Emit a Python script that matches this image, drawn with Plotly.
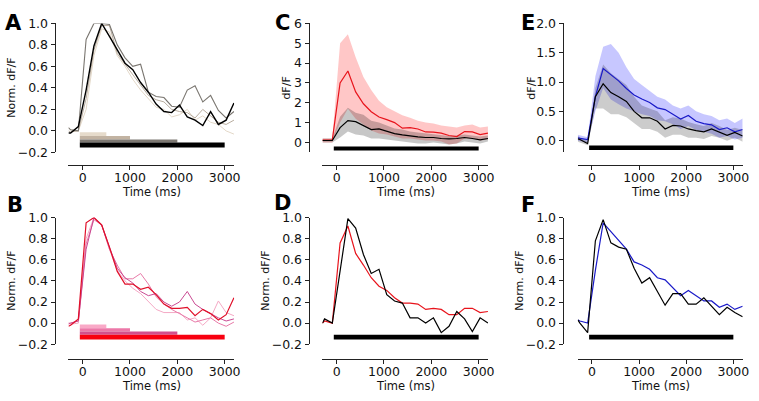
import plotly.graph_objects as go

W, H = 759, 401

# ---------------- data ----------------
T = [-300, -255, -91, 73, 238, 402, 566, 731, 895, 1059, 1224, 1388, 1552,
     1717, 1881, 2045, 2210, 2374, 2538, 2703, 2867, 3031, 3196]

# Panel A (normalized, grey shades by stimulus duration)
a_light = [0.03, 0.01, 0.0, 0.2, 0.7, 0.95, 0.92, 0.7, 0.6, 0.48, 0.38, 0.3, 0.22, 0.2, 0.13, 0.15, 0.2, 0.1, 0.14, 0.08, 0.06, 0.0, -0.03]
a_tan = [0.0, -0.01, 0.0, 0.3, 0.75, 0.98, 0.98, 0.72, 0.62, 0.52, 0.42, 0.33, 0.29, 0.27, 0.2, 0.18, 0.17, 0.12, 0.2, 0.14, 0.08, 0.06, 0.1]
a_gray = [0.03, 0.01, 0.0, 0.85, 1.0, 1.0, 0.99, 0.8, 0.68, 0.6, 0.62, 0.36, 0.32, 0.31, 0.23, 0.22, 0.38, 0.42, 0.27, 0.33, 0.19, 0.12, 0.18]
a_black = [-0.02, -0.02, 0.04, 0.38, 0.79, 1.0, 0.88, 0.75, 0.63, 0.57, 0.45, 0.36, 0.25, 0.18, 0.17, 0.24, 0.13, 0.1, 0.05, 0.18, 0.06, 0.1, 0.26]

# Panel B (normalized, pink/red shades)
b_light = [0.0, -0.01, 0.0, 0.8, 1.0, 0.93, 0.7, 0.5, 0.4, 0.33, 0.28, 0.2, 0.13, 0.1, 0.1, 0.1, 0.03, 0.05, -0.02, 0.05, 0.21, 0.1, 0.07]
b_pink = [0.0, 0.0, 0.02, 0.75, 0.98, 0.93, 0.7, 0.55, 0.42, 0.42, 0.47, 0.37, 0.25, 0.18, 0.13, 0.09, 0.05, 0.01, 0.03, 0.05, 0.0, -0.03, 0.01]
b_mag = [-0.01, 0.0, 0.02, 0.7, 1.0, 0.93, 0.72, 0.52, 0.43, 0.38, 0.3, 0.26, 0.28, 0.2, 0.16, 0.2, 0.3, 0.18, 0.13, 0.09, 0.05, 0.02, 0.04]
b_red = [-0.03, -0.02, 0.04, 0.95, 1.0, 0.93, 0.72, 0.49, 0.37, 0.37, 0.32, 0.34, 0.27, 0.18, 0.14, 0.14, 0.15, 0.07, 0.13, 0.09, 0.03, 0.08, 0.24]

# Panel C (dF/F, mean and spread)
c_red = [0.12, 0.12, 0.13, 3.0, 3.6, 2.55, 1.95, 1.55, 1.28, 1.15, 1.0, 0.72, 0.75, 0.68, 0.53, 0.52, 0.47, 0.35, 0.3, 0.55, 0.53, 0.4, 0.47]
c_red_hi = [0.2, 0.2, 0.2, 5.0, 5.45, 4.3, 3.3, 2.65, 2.1, 1.77, 1.55, 1.37, 1.25, 1.1, 1.0, 0.95, 0.85, 0.8, 0.75, 0.85, 0.9, 0.75, 0.8]
c_red_lo = [0.0, 0.0, 0.0, 1.0, 1.7, 1.2, 0.9, 0.6, 0.45, 0.4, 0.3, 0.2, 0.2, 0.15, 0.1, 0.1, 0.05, -0.1, -0.05, 0.2, 0.2, 0.1, 0.15]
c_blk = [0.1, 0.1, 0.1, 0.75, 1.1, 1.05, 0.85, 0.65, 0.68, 0.55, 0.45, 0.38, 0.32, 0.28, 0.25, 0.25, 0.2, 0.18, 0.2, 0.25, 0.2, 0.13, 0.2]
c_blk_hi = [0.2, 0.2, 0.2, 1.3, 1.75, 1.5, 1.4, 1.1, 1.0, 0.85, 0.7, 0.65, 0.55, 0.5, 0.45, 0.42, 0.35, 0.32, 0.35, 0.4, 0.35, 0.3, 0.35]
c_blk_lo = [0.0, 0.0, 0.0, 0.25, 0.55, 0.4, 0.35, 0.2, 0.2, 0.15, 0.1, 0.05, 0.0, -0.05, -0.05, 0.0, -0.05, -0.1, -0.05, 0.05, 0.0, -0.05, 0.05]

# Panel D (normalized means)
d_blk = [0.0, 0.04, 0.0, 0.5, 0.99, 0.9, 0.65, 0.47, 0.51, 0.27, 0.21, 0.19, 0.05, 0.05, 0.0, 0.05, -0.09, -0.03, 0.11, 0.04, -0.08, 0.05, 0.0]
d_red = [0.0, 0.02, 0.0, 0.76, 0.92, 0.66, 0.55, 0.43, 0.35, 0.31, 0.24, 0.19, 0.19, 0.18, 0.13, 0.14, 0.13, 0.08, 0.08, 0.14, 0.14, 0.1, 0.11]

# Panel E (dF/F, mean and spread)
e_blue = [0.05, 0.04, 0.02, 0.75, 1.23, 1.12, 1.02, 0.89, 0.78, 0.71, 0.65, 0.56, 0.53, 0.45, 0.37, 0.43, 0.33, 0.29, 0.27, 0.19, 0.22, 0.15, 0.19]
e_blue_hi = [0.1, 0.09, 0.06, 1.1, 1.6, 1.65, 1.5, 1.25, 1.05, 0.95, 0.85, 0.75, 0.7, 0.6, 0.55, 0.6, 0.5, 0.45, 0.42, 0.35, 0.38, 0.3, 0.38]
e_blue_lo = [0.0, -0.01, -0.03, 0.5, 0.9, 0.7, 0.62, 0.55, 0.5, 0.45, 0.42, 0.35, 0.33, 0.28, 0.2, 0.25, 0.18, 0.15, 0.12, 0.05, 0.08, 0.02, 0.05]
e_blk = [0.03, 0.02, -0.05, 0.75, 0.97, 0.82, 0.75, 0.67, 0.5, 0.39, 0.39, 0.33, 0.2, 0.26, 0.25, 0.2, 0.17, 0.15, 0.2, 0.15, 0.09, 0.14, 0.08]
e_blk_hi = [0.08, 0.06, 0.0, 0.9, 1.3, 1.15, 1.05, 0.95, 0.75, 0.6, 0.55, 0.5, 0.35, 0.4, 0.38, 0.32, 0.28, 0.25, 0.3, 0.25, 0.18, 0.22, 0.18]
e_blk_lo = [-0.02, -0.03, -0.08, 0.55, 0.55, 0.45, 0.45, 0.4, 0.3, 0.2, 0.2, 0.15, 0.05, 0.1, 0.1, 0.05, 0.05, 0.03, 0.08, 0.05, 0.0, 0.05, -0.02]

# Panel F (normalized means)
f_blk = [0.03, 0.0, -0.09, 0.78, 0.98, 0.76, 0.72, 0.7, 0.52, 0.38, 0.43, 0.3, 0.17, 0.28, 0.28, 0.18, 0.18, 0.24, 0.16, 0.08, 0.15, 0.1, 0.06]
f_blue = [0.03, 0.02, 0.0, 0.5, 0.95, 0.87, 0.78, 0.7, 0.58, 0.55, 0.51, 0.43, 0.41, 0.33, 0.26, 0.31, 0.26, 0.21, 0.21, 0.15, 0.18, 0.13, 0.16]

# stimulus bars
stim_start = -60
stim_ends = [500, 1000, 2000, 3000]
stim_top = [-0.012, -0.048, -0.079, -0.109]
stim_bot = [-0.048, -0.079, -0.109, -0.155]
bar_C = (-0.2, -0.4)
bar_E = (-0.082, -0.16)
bar_norm = (-0.11, -0.156)

x_ticks = [0, 1000, 2000, 3000]
norm_ticks = [-0.2, 0.0, 0.2, 0.4, 0.6, 0.8, 1.0]
norm_ticktext = ["\u22120.2", "0.0", "0.2", "0.4", "0.6", "0.8", "1.0"]
c_ticks = [0, 1, 2, 3, 4, 5, 6]
e_ticks = [0.0, 0.5, 1.0, 1.5, 2.0]

# ---------------- layout geometry (pixels) ----------------
def px(x):
    return x / W

def py(y):
    return 1 - y / H

col_x = [(69.0, 236.0), (325.0, 492.0), (582.4, 748.7)]
col_yaxis = [55, 311, 567]
row_y = [(16.0, 150.0), (217.7, 349.3)]
row_xaxis = [163.3, 364.3]

FONT = "DejaVu Sans"
TICK_SIZE = 12.5
fig = go.Figure()

panels = [
    # name, col, row, yrange, ticks, ticktext, ytitle, title offset
    ("A", 0, 0, [-0.2, 1.0], norm_ticks, norm_ticktext, "Norm. dF/F", 43),
    ("B", 0, 1, [-0.2, 1.0], norm_ticks, norm_ticktext, "Norm. dF/F", 43),
    ("C", 1, 0, [-0.5, 6.0], c_ticks, [str(v) for v in c_ticks], "dF/F", 22),
    ("D", 1, 1, [-0.2, 1.0], norm_ticks, norm_ticktext, "Norm. dF/F", 43),
    ("E", 2, 0, [-0.2, 2.0], e_ticks, ["%.1f" % v for v in e_ticks], "dF/F", 31),
    ("F", 2, 1, [-0.2, 1.0], norm_ticks, norm_ticktext, "Norm. dF/F", 43),
]

letter_pos = {"A": (13.5, 16), "B": (15.5, 205), "C": (285, 16), "D": (284.5, 203),
              "E": (532.5, 16), "F": (532, 205)}

annotations = []
axis_ids = {}
for i, (name, col, row, yr, tv, tt, ytitle, toff) in enumerate(panels):
    n = i + 1
    xs = "" if n == 1 else str(n)
    axis_ids[name] = ("x" + xs, "y" + xs)
    x0, x1 = col_x[col]
    ytop, ybot = row_y[row]
    fig.layout["xaxis" + xs] = dict(
        domain=[px(x0), px(x1)], range=[-300, 3200], anchor="free",
        position=py(row_xaxis[row]), showline=True, linecolor="#222", linewidth=1,
        ticks="outside", ticklen=4, tickwidth=1, tickcolor="#222",
        tickvals=x_ticks, ticktext=[str(v) for v in x_ticks], ticklabelstandoff=-3,
        showgrid=False, zeroline=False,
        tickfont=dict(family=FONT, size=TICK_SIZE, color="#111"))
    fig.layout["yaxis" + xs] = dict(
        domain=[py(ybot), py(ytop)], range=yr, anchor="free",
        position=px(col_yaxis[col]), showline=True, linecolor="#222", linewidth=1,
        ticks="outside", ticklen=4, tickwidth=1, tickcolor="#222",
        tickvals=tv, ticktext=tt, showgrid=False, zeroline=False,
        tickfont=dict(family=FONT, size=TICK_SIZE, color="#111"))
    # axis titles
    annotations.append(dict(x=px((x0 + x1) / 2), y=py(row_xaxis[row] + 28), xref="paper", yref="paper",
                            text="Time (ms)", showarrow=False, xanchor="center", yanchor="middle",
                            font=dict(family=FONT, size=11.5, color="#111")))
    annotations.append(dict(x=px(col_yaxis[col] - toff), y=py((ytop + ybot) / 2), xref="paper", yref="paper",
                            text=ytitle, textangle=-90, showarrow=False, xanchor="center", yanchor="middle",
                            font=dict(family=FONT, size=11, color="#111")))
    lx, ly = letter_pos[name]
    annotations.append(dict(x=px(lx), y=py(ly), xref="paper", yref="paper",
                            text="<b>%s</b>" % name, showarrow=False, xanchor="center", yanchor="middle",
                            font=dict(family=FONT, size=21, color="#000")))


def line(name, xs, ys, color, width):
    xa, ya = axis_ids[name]
    fig.add_trace(go.Scatter(x=xs, y=ys, mode="lines", line=dict(color=color, width=width),
                             xaxis=xa, yaxis=ya, showlegend=False, hoverinfo="skip"))


def band(name, xs, lo, hi, color):
    xa, ya = axis_ids[name]
    fig.add_trace(go.Scatter(x=list(xs) + list(xs)[::-1], y=list(hi) + list(lo)[::-1],
                             mode="lines", fill="toself", fillcolor=color, line=dict(width=0),
                             xaxis=xa, yaxis=ya, showlegend=False, hoverinfo="skip"))


def rect(name, x0, x1, ytop, ybot, color):
    xa, ya = axis_ids[name]
    fig.add_trace(go.Scatter(x=[x0, x1, x1, x0, x0], y=[ytop, ytop, ybot, ybot, ytop],
                             mode="lines", fill="toself", fillcolor=color, line=dict(width=0),
                             xaxis=xa, yaxis=ya, showlegend=False, hoverinfo="skip"))


# Panel A
a_cols = ["#e6dbcb", "#c2b3a2", "#7d7872", "#000000"]
for e, t, b, c in zip(stim_ends, stim_top, stim_bot, a_cols):
    rect("A", stim_start, e, t, b, c)
line("A", T, a_light, "#e3d8c8", 1)
line("A", T, a_tan, "#b8ac9e", 1)
line("A", T, a_gray, "#7a7670", 1.1)
line("A", T, a_black, "#000000", 1.4)

# Panel B
b_bar_cols = ["#f9a9c7", "#ec78a8", "#d2508e", "#f80010"]
for e, t, b, c in zip(stim_ends, stim_top, stim_bot, b_bar_cols):
    rect("B", stim_start, e, t, b, c)
line("B", T, b_light, "#f4a8c4", 1)
line("B", T, b_pink, "#e77aa8", 1)
line("B", T, b_mag, "#c94a92", 1)
line("B", T, b_red, "#e0102a", 1.2)

# Panel C
band("C", T, c_red_lo, c_red_hi, "rgba(255,0,0,0.22)")
band("C", T, c_blk_lo, c_blk_hi, "rgba(0,0,0,0.22)")
line("C", T, c_red, "#e8141c", 1.2)
line("C", T, c_blk, "#000000", 1.2)
rect("C", stim_start, 3000, bar_C[0], bar_C[1], "#000000")

# Panel D
line("D", T, d_red, "#e8141c", 1.2)
line("D", T, d_blk, "#000000", 1.2)
rect("D", stim_start, 3000, bar_norm[0], bar_norm[1], "#000000")

# Panel E
band("E", T, e_blue_lo, e_blue_hi, "rgba(0,0,255,0.22)")
band("E", T, e_blk_lo, e_blk_hi, "rgba(0,0,0,0.2)")
line("E", T, e_blue, "#1a1ac8", 1.2)
line("E", T, e_blk, "#000000", 1.2)
rect("E", stim_start, 3000, bar_E[0], bar_E[1], "#000000")

# Panel F
line("F", T, f_blue, "#1a1ac8", 1.2)
line("F", T, f_blk, "#000000", 1.2)
rect("F", stim_start, 3000, bar_norm[0], bar_norm[1], "#000000")

fig.update_layout(width=W, height=H, margin=dict(l=0, r=0, t=0, b=0),
                  paper_bgcolor="white", plot_bgcolor="white",
                  font=dict(family=FONT), annotations=annotations, showlegend=False)

fig.write_html("out.html", config={"displayModeBar": False},
               post_script="document.body.style.margin='0';document.body.style.padding='0';")
